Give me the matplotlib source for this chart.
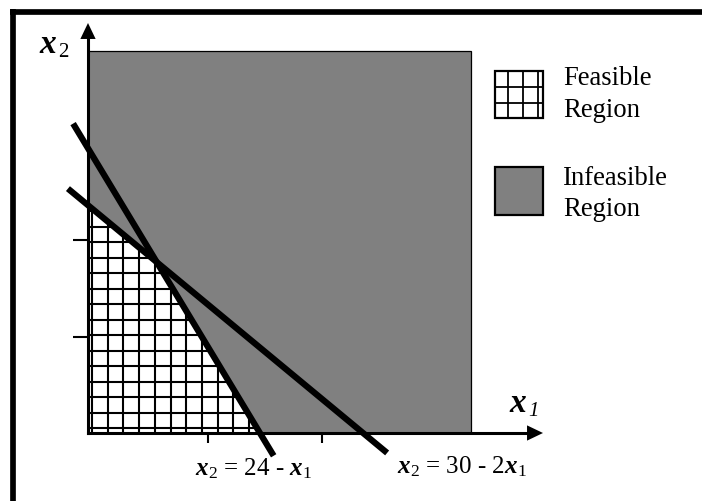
import numpy as np
import matplotlib
matplotlib.use("Agg")
import matplotlib.pyplot as plt
from matplotlib.patches import Rectangle, Polygon
from matplotlib.collections import LineCollection
from matplotlib.lines import Line2D

plt.rcParams['font.family'] = ['Liberation Serif', 'DejaVu Serif']
plt.rcParams['mathtext.fontset'] = 'custom'
plt.rcParams['mathtext.rm'] = 'Liberation Serif'
plt.rcParams['mathtext.it'] = 'Liberation Serif:italic'
plt.rcParams['mathtext.bf'] = 'Liberation Serif:bold'
plt.rcParams['mathtext.bfit'] = 'Liberation Serif:italic:bold'

# --- constraint lines x2 = a - b*x1 --------------------------------------
line_intercepts = [24, 30]          # a
line_slopes = [1, 2]                # b
line_x_start = [-1.75, -1.3]        # where each drawn segment begins
line_x_end = [26.1, 16.2]           # where each drawn segment ends
line_labels = [r'$\mathbfit{x}_2$ = 30 - 2$\mathbfit{x}_1$',
               r'$\mathbfit{x}_2$ = 24 - $\mathbfit{x}_1$']

# --- axes and regions ------------------------------------------------------
axis_extent = [39.7, 43.2]          # x1 and x2 arrow tips
infeasible_extent = [33.4, 40.3]    # width / height of the shaded rectangle
x_ticks = [10.5, 20.4]
y_ticks = [10.1, 20.3]
legend_labels = [['Feasible', 'Region'], ['Infeasible', 'Region']]

W, H = 702, 501
fig = plt.figure(figsize=(W / 100, H / 100), dpi=100)

# pixel-space layer for frame, legend and equation labels
deco = fig.add_axes([0, 0, 1, 1], zorder=0)
deco.set_xlim(0, W)
deco.set_ylim(H, 0)
deco.axis('off')

# main plotting axes, origin at the corner of the two arrows
ox, oy, tipx, tipy = 88, 433, 543, 23
ax = fig.add_axes([ox / W, (H - oy) / H, (tipx - ox) / W, (oy - tipy) / H], zorder=1)
ax.patch.set_visible(False)
ax.set_xlim(0, axis_extent[0])
ax.set_ylim(0, axis_extent[1])
for s in ('top', 'right'):
    ax.spines[s].set_visible(False)
for s in ('left', 'bottom'):
    ax.spines[s].set_linewidth(2.2)
    ax.spines[s].set_zorder(6)
ax.spines['bottom'].set_bounds(0, axis_extent[0] - 1.0)
ax.spines['left'].set_bounds(0, axis_extent[1] - 1.2)
ax.set_xticks(x_ticks)
ax.set_yticks(y_ticks)
ax.tick_params(axis='x', direction='out', length=7.5, width=1.5,
               labelbottom=False)
ax.tick_params(axis='y', direction='out', length=10.5, width=1.5,
               labelleft=False)

# arrow heads on both axes
head = dict(arrowstyle='-|>,head_length=1.15,head_width=0.55',
            color='black', lw=0, mutation_scale=10, shrinkA=0, shrinkB=0)
ax.annotate('', xy=(1, 0), xytext=(0.9, 0), xycoords='axes fraction',
            arrowprops=head, annotation_clip=False, zorder=7)
ax.annotate('', xy=(0, 1), xytext=(0, 0.9), xycoords='axes fraction',
            arrowprops=head, annotation_clip=False, zorder=7)

# infeasible (shaded) rectangle
ax.add_patch(Rectangle((0, 0), infeasible_extent[0], infeasible_extent[1],
                       facecolor='#808080', edgecolor='black', lw=0.9,
                       zorder=1))

# feasible region: below both constraint lines
a1, a2 = line_intercepts
b1, b2 = line_slopes
xi = (a2 - a1) / (b2 - b1)
yi = a1 - b1 * xi
x_cut = min(a / b for a, b in zip(line_intercepts, line_slopes))
y_cut = min(line_intercepts)
feasible = Polygon([(0, 0), (x_cut, 0), (xi, yi), (0, y_cut)],
                   closed=True, facecolor='white', edgecolor='none', zorder=2)
ax.add_patch(feasible)

# grid pattern filling the feasible region
gx = np.arange(0.35, x_cut + 1, 1.37)
gy = np.arange(0.53, y_cut + 1, 1.63)
segs = [[(x, 0), (x, y_cut)] for x in gx] + [[(0, y), (x_cut, y)] for y in gy]
grid = LineCollection(segs, colors='black', linewidths=1.5, zorder=3)
ax.add_collection(grid)
grid.set_clip_path(feasible)

# constraint lines
for a, b, xs, xe in zip(line_intercepts, line_slopes, line_x_start, line_x_end):
    xx = np.array([xs, xe])
    ax.plot(xx, a - b * xx, color='black', lw=4.5, solid_capstyle='butt',
            clip_on=False, zorder=5)

# axis labels: bold italic variable with a smaller subscript
bfit = dict(fontsize=24, fontweight='bold', fontstyle='italic',
            ha='left', va='baseline')
deco.text(39, 53, 'x', **bfit)
deco.text(58, 57, '2', fontsize=15, ha='left', va='baseline')
deco.text(509, 412, 'x', **bfit)
deco.text(528, 416, '1', fontsize=15, fontstyle='italic',
          ha='left', va='baseline')

# equation labels under the x1 axis
deco.text(195, 475, line_labels[1], fontsize=18, ha='left', va='baseline')
deco.text(397, 473, line_labels[0], fontsize=18, ha='left', va='baseline')

# legend
bx0, bx1 = 495, 543
deco.add_patch(Rectangle((bx0, 71), bx1 - bx0, 47, facecolor='white',
                         edgecolor='black', lw=1.6))
for x in (508, 523, 538):
    deco.add_line(Line2D([x, x], [71, 118], color='black', lw=1.3))
for y in (87, 103):
    deco.add_line(Line2D([bx0, bx1], [y, y], color='black', lw=1.3))
deco.add_patch(Rectangle((bx0, 167), bx1 - bx0, 48, facecolor='#808080',
                         edgecolor='black', lw=1.6))
for (l1, l2), (y1, y2) in zip(legend_labels, [(85, 117), (185, 216)]):
    deco.text(563, y1, l1, fontsize=19.2, ha='left', va='baseline')
    deco.text(563, y2, l2, fontsize=19.2, ha='left', va='baseline')

# frame along the top and left edges
deco.add_line(Line2D([12.8, 12.8], [9.3, H], color='black', lw=4.1,
                     solid_capstyle='butt'))
deco.add_line(Line2D([10, W], [12.2, 12.2], color='black', lw=4.1,
                     solid_capstyle='butt'))

fig.savefig('out.png', dpi=100)
